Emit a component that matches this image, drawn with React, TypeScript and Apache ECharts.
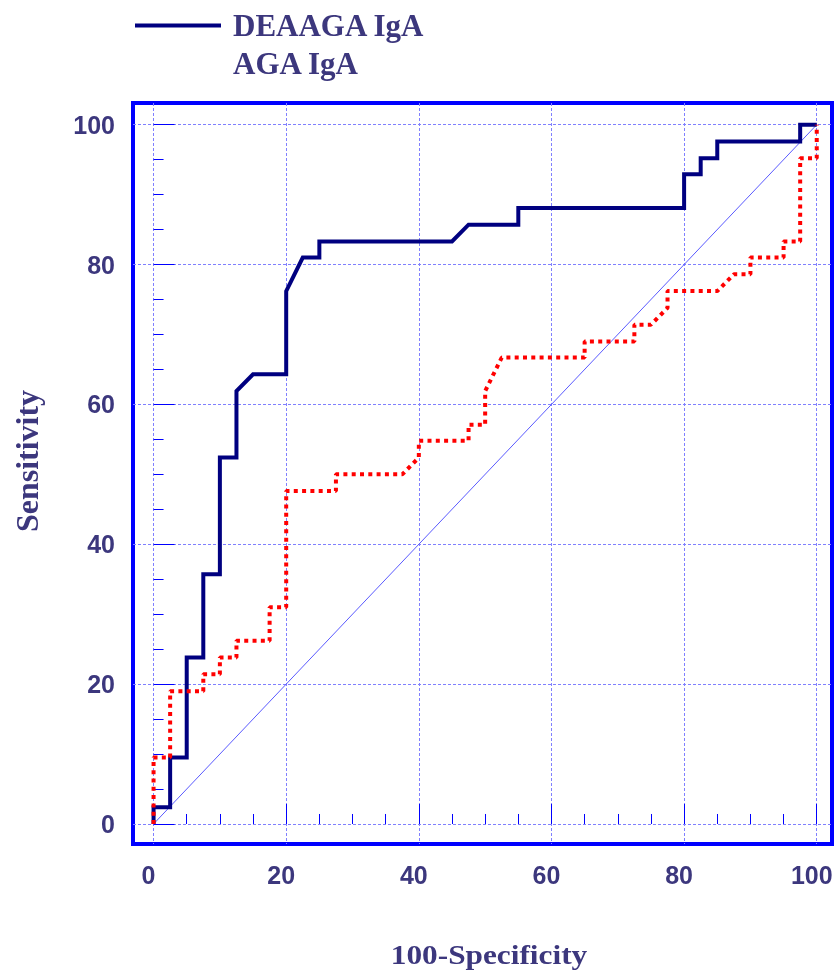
import React, { useEffect, useRef } from "react";
import * as echarts from "echarts";

// ROC curve for DEAAGA IgA (100-Specificity, Sensitivity)
const deaagaX = [0, 0, 2.5, 2.5, 5, 5, 7.5, 7.5, 10, 10, 12.5, 12.5, 15, 20, 20, 22.5, 25, 25, 45, 47.5, 55, 55, 80, 80, 82.5, 82.5, 85, 85, 97.5, 97.5, 100];
const deaagaY = [0, 2.4, 2.4, 9.5, 9.5, 23.8, 23.8, 35.7, 35.7, 52.4, 52.4, 61.9, 64.3, 64.3, 76.2, 81.0, 81.0, 83.3, 83.3, 85.7, 85.7, 88.1, 88.1, 92.9, 92.9, 95.2, 95.2, 97.6, 97.6, 100, 100];

// ROC curve for AGA IgA
const agaX = [0, 0, 2.5, 2.5, 7.5, 7.5, 10, 10, 12.5, 12.5, 17.5, 17.5, 20, 20, 27.5, 27.5, 37.5, 40, 40, 47.5, 47.5, 50, 50, 52.5, 65, 65, 72.5, 72.5, 75, 77.5, 77.5, 85, 87.5, 90, 90, 95, 95, 97.5, 97.5, 100, 100];
const agaY = [0, 9.5, 9.5, 19.0, 19.0, 21.4, 21.4, 23.8, 23.8, 26.2, 26.2, 31.0, 31.0, 47.6, 47.6, 50.0, 50.0, 52.4, 54.8, 54.8, 57.1, 57.1, 61.9, 66.7, 66.7, 69.0, 69.0, 71.4, 71.4, 73.8, 76.2, 76.2, 78.6, 78.6, 81.0, 81.0, 83.3, 83.3, 95.2, 95.2, 100];

// reference diagonal
const diagX = [0, 100];
const diagY = [0, 100];

const majorTicks = [0, 20, 40, 60, 80, 100];
const minorTicks = [5, 10, 15, 25, 30, 35, 45, 50, 55, 65, 70, 75, 85, 90, 95];

const seriesNames = ["DEAAGA IgA", "AGA IgA"];
const xTitle = "100-Specificity";
const yTitle = "Sensitivity";

const zip = (xs: number[], ys: number[]) => xs.map((x, i) => [x, ys[i]]);

const TEXT = "#3c377d";
const BLUE = "#0000ff";

export default function App() {
  const ref = useRef<HTMLDivElement>(null);
  useEffect(() => {
    if (!ref.current) return;
    const chart = echarts.init(ref.current, null, { renderer: "svg" });
    const labelStyle = {
      fontFamily: '"Liberation Sans", Arial, sans-serif',
      fontWeight: "bold" as const,
      fontSize: 25,
      color: TEXT,
    };
    const xMin = -3.1, xMax = 102.3, yMin = -2.86, yMax = 103.1;
    chart.setOption({
      animation: false,
      grid: {
        left: 133,
        top: 103,
        width: 699,
        height: 741,
        show: true,
        borderColor: BLUE,
        borderWidth: 4,
        containLabel: false,
      },
      legend: {
        orient: "vertical",
        left: 130,
        top: 5,
        itemWidth: 86,
        itemHeight: 4,
        itemGap: 7,
        selectedMode: false,
        textStyle: {
          fontFamily: '"Liberation Serif", "Times New Roman", serif',
          fontWeight: "bold",
          fontSize: 31,
          color: TEXT,
          padding: [0, 0, 0, 7],
        },
        data: [
          { name: seriesNames[0], icon: "rect", itemStyle: { color: "#000080" } },
          { name: seriesNames[1], icon: "rect", itemStyle: { opacity: 0 } },
        ],
      },
      xAxis: [
        {
          type: "value",
          min: xMin,
          max: xMax,
          position: "bottom",
          axisLine: { show: false },
          axisTick: {
            show: true,
            inside: true,
            length: 20,
            customValues: majorTicks,
            lineStyle: { color: BLUE, width: 1 },
          },
          axisLabel: {
            ...labelStyle,
            customValues: majorTicks,
            margin: 18,
            padding: [0, 10, 0, 0],
          },
          splitLine: {
            show: true,
            lineStyle: { color: "#8080ff", width: 1, type: [3, 2] },
          },
        },
        {
          type: "value",
          min: xMin,
          max: xMax,
          position: "bottom",
          axisLine: { show: false },
          axisTick: {
            show: true,
            inside: true,
            length: 10,
            customValues: minorTicks,
            lineStyle: { color: BLUE, width: 1 },
          },
          axisLabel: { show: false },
          splitLine: { show: false },
        },
      ],
      yAxis: [
        {
          type: "value",
          min: yMin,
          max: yMax,
          position: "left",
          axisLine: { show: false },
          axisTick: {
            show: true,
            inside: true,
            length: 21,
            customValues: majorTicks,
            lineStyle: { color: BLUE, width: 1 },
          },
          axisLabel: {
            ...labelStyle,
            customValues: majorTicks,
            margin: 18,
          },
          splitLine: {
            show: true,
            lineStyle: { color: "#8080ff", width: 1, type: [3, 2] },
          },
        },
        {
          type: "value",
          min: yMin,
          max: yMax,
          position: "left",
          axisLine: { show: false },
          axisTick: {
            show: true,
            inside: true,
            length: 10,
            customValues: minorTicks,
            lineStyle: { color: BLUE, width: 1 },
          },
          axisLabel: { show: false },
          splitLine: { show: false },
        },
      ],
      series: [
        {
          name: "diagonal",
          type: "line",
          xAxisIndex: 0,
          yAxisIndex: 0,
          data: zip(diagX, diagY),
          showSymbol: false,
          symbol: "none",
          silent: true,
          lineStyle: { color: "#5a5aff", width: 1 },
        },
        {
          name: seriesNames[0],
          type: "line",
          xAxisIndex: 0,
          yAxisIndex: 0,
          data: zip(deaagaX, deaagaY),
          showSymbol: false,
          symbol: "none",
          lineStyle: { color: "#000080", width: 4, join: "miter" },
          itemStyle: { color: "#000080" },
        },
        {
          name: seriesNames[1],
          type: "line",
          xAxisIndex: 0,
          yAxisIndex: 0,
          data: zip(agaX, agaY),
          showSymbol: false,
          symbol: "none",
          lineStyle: { color: "#ff0000", width: 4, type: [4, 4.3], cap: "butt" },
          itemStyle: { color: "#ff0000" },
        },
      ],
      graphic: [
        {
          type: "text",
          x: 489,
          y: 955,
          scaleX: 1.16,
          style: {
            text: xTitle,
            fontFamily: '"Liberation Serif", "Times New Roman", serif',
            fontWeight: "bold",
            fontSize: 27,
            fill: TEXT,
            align: "center",
            verticalAlign: "middle",
            textAlign: "center",
            textVerticalAlign: "middle",
          },
        },
        {
          type: "text",
          x: 27,
          y: 461,
          rotation: Math.PI / 2,
          style: {
            text: yTitle,
            fontFamily: '"Liberation Serif", "Times New Roman", serif',
            fontWeight: "bold",
            fontSize: 32,
            fill: TEXT,
            align: "center",
            verticalAlign: "middle",
            textAlign: "center",
            textVerticalAlign: "middle",
          },
        },
      ],
    });
    return () => chart.dispose();
  }, []);
  return (
    <div
      ref={ref}
      style={{ position: "fixed", left: 0, top: 0, width: 837, height: 971 }}
    />
  );
}
